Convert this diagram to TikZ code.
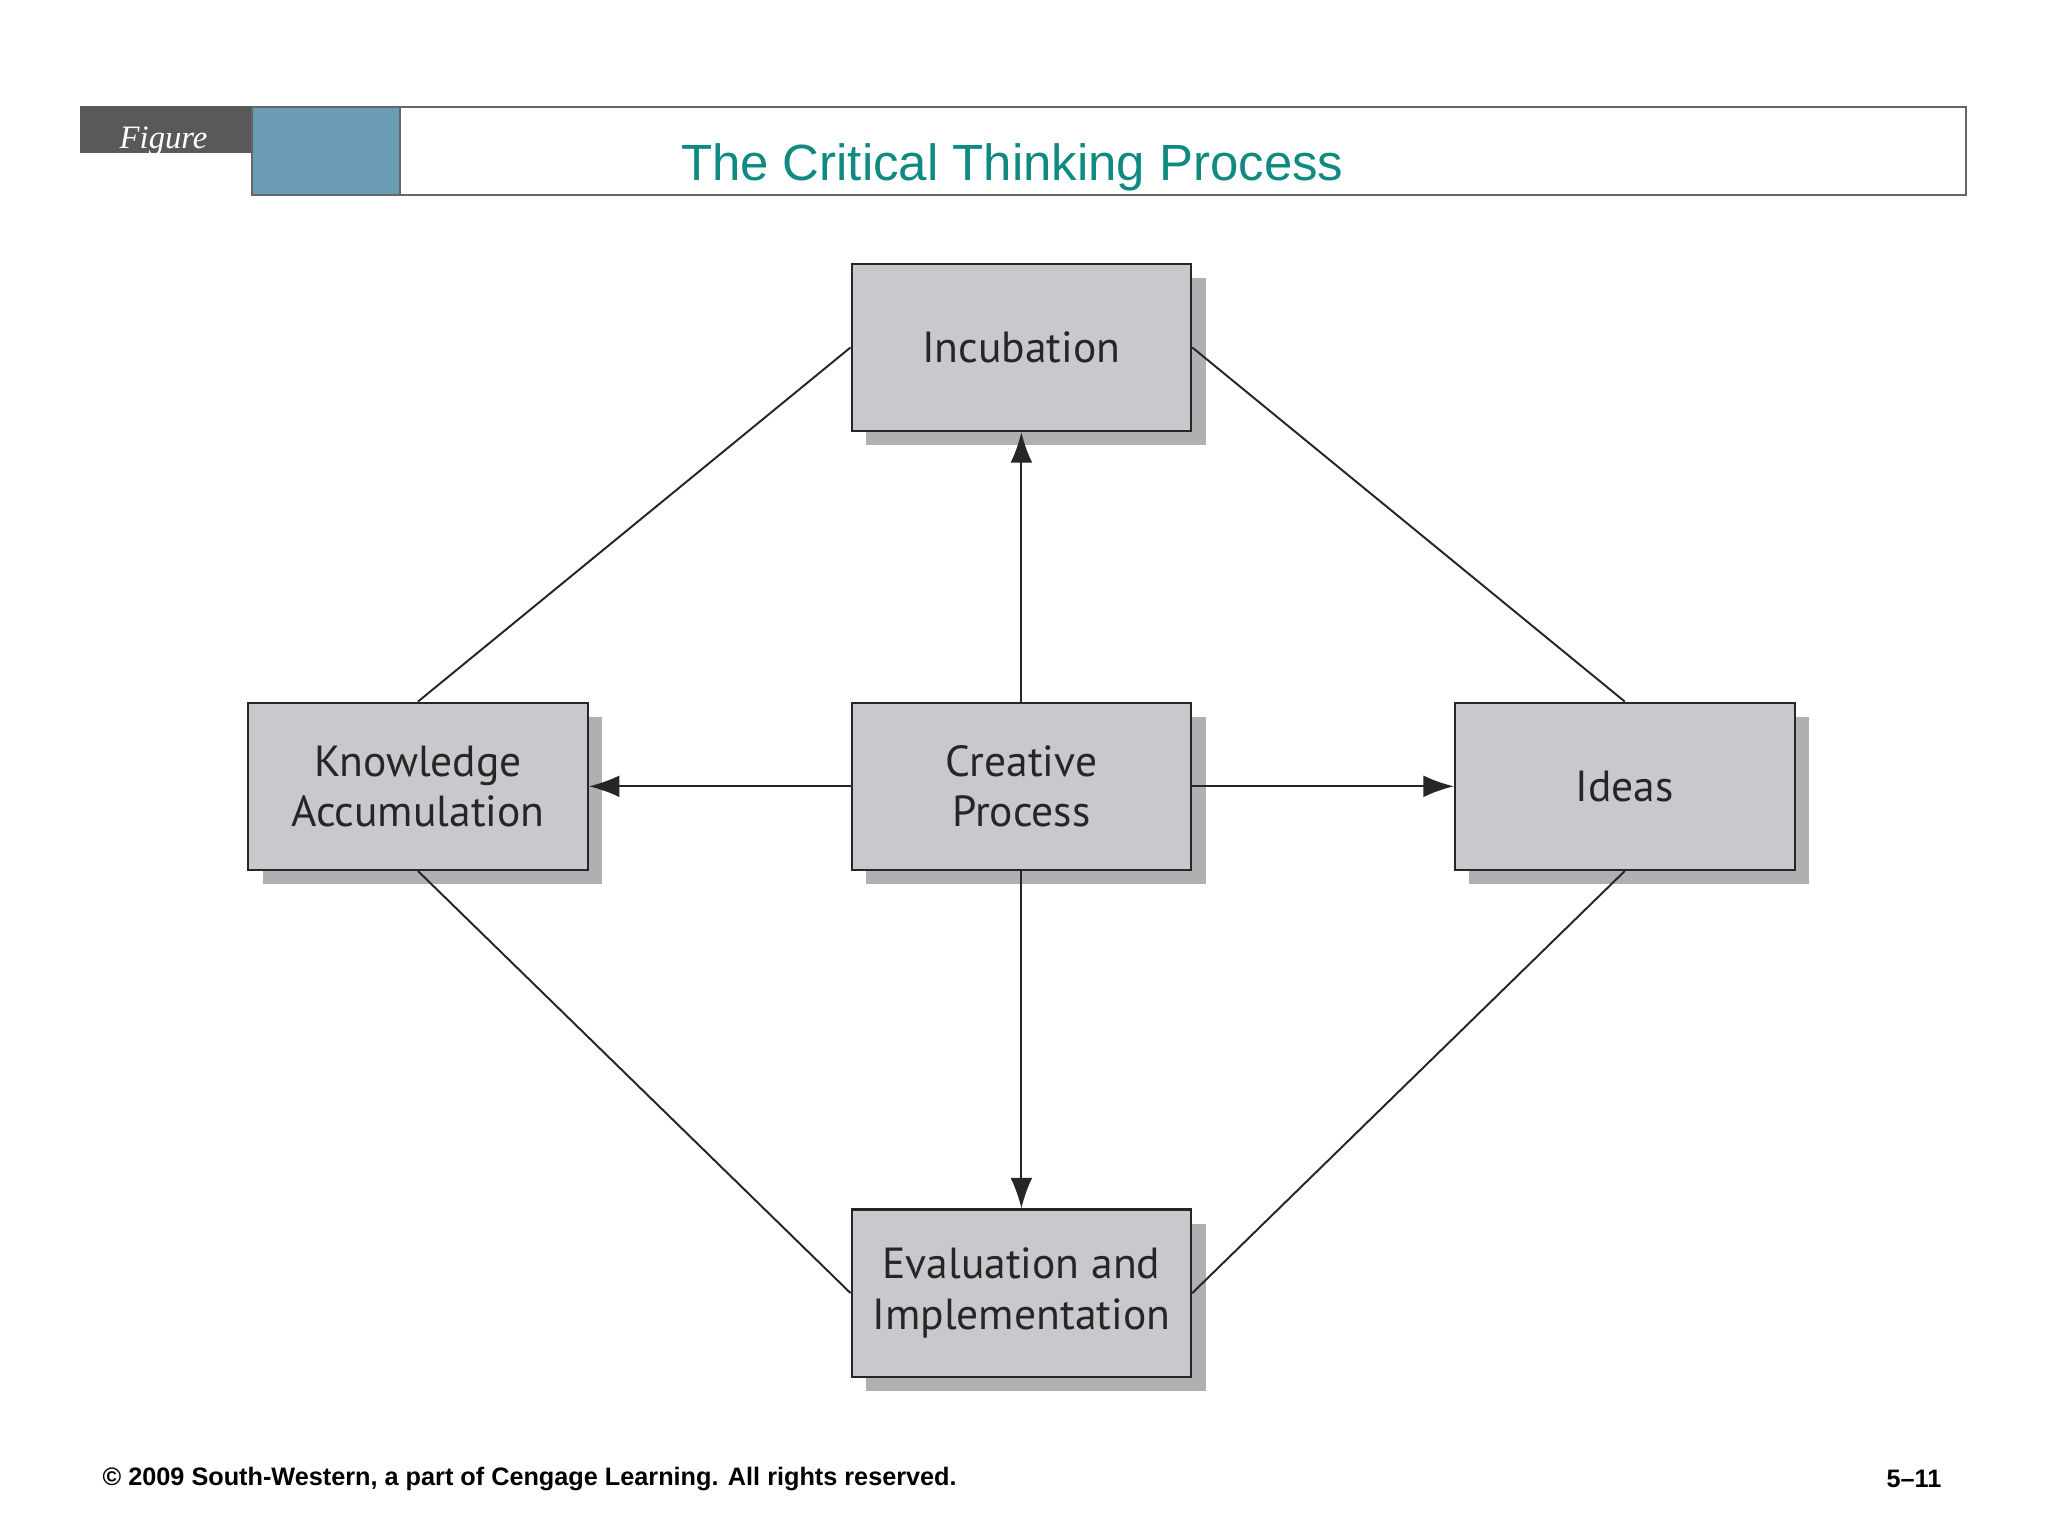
\documentclass[tikz,border=0pt]{standalone}
\usepackage{fontspec}
\setmainfont{Liberation Sans}
\newfontfamily\boxfont{PT Sans}
\newfontfamily\figfont{Liberation Serif}
\usetikzlibrary{arrows.meta}
\definecolor{boxfill}{HTML}{C9C8CC}
\definecolor{shadowc}{HTML}{B0AFB2}
\definecolor{teal}{HTML}{0E8A80}
\definecolor{bluebox}{HTML}{6A9CB6}
\tikzset{
  px/.style={x=0.3pt,y=-0.3pt},
  proc/.style={draw=black!85,line width=0.5pt,fill=boxfill,minimum width=78pt,minimum height=38.4pt,
    align=center,font=\boxfont\fontsize{10}{11.6}\selectfont,text=black!85,inner sep=0pt},
  shad/.style={fill=shadowc,minimum width=78pt,minimum height=38.4pt,inner sep=0pt},
  conn/.style={draw=black!85,line width=0.45pt},
  arr/.style={conn,-{Latex[length=7pt,width=5pt]}}
}
\begin{document}
\begin{tikzpicture}[px]
\useasboundingbox (0,0) rectangle (1568,1176);
\fill[white] (0,0) rectangle (1568,1176);
% header
\fill[black!65] (61,81) rectangle (193,117);
\node[anchor=west,inner sep=0pt,font=\figfont\itshape\fontsize{7.5}{8}\selectfont,text=white] (figl) at (91,108) {Figure};
\draw[black!60,line width=0.4pt] (193,82) rectangle (1505,149);
\fill[bluebox] (193,82) rectangle (306,149);
\draw[black!60,line width=0.4pt] (193,82) rectangle (306,149);
\node[font=\fontsize{11.7}{13}\selectfont,text=teal] (title) at (775,128) {The Critical Thinking Process};
% shadows
\foreach \x/\y in {782/266,320/602,782/602,1244/602,782/990}
  \node[shad] at (\x+11,\y+11) {};
% boxes
\node[proc] (inc) at (782,266) {Incubation};
\node[proc] (know) at (320,602) {Knowledge\\Accumulation};
\node[proc] (cre) at (782,602) {Creative\\Process};
\node[proc] (ideas) at (1244,602) {Ideas};
\node[proc] (eval) at (782,990) {Evaluation and\\Implementation};
% lines
\draw[conn] (know.north) -- (inc.west);
\draw[conn] (inc.east) -- (ideas.north);
\draw[conn] (know.south) -- (eval.west);
\draw[conn] (ideas.south) -- (eval.east);
% arrows
\draw[arr] (cre.north) -- (inc.south);
\draw[arr] (cre.west) -- (know.east);
\draw[arr] (cre.east) -- (ideas.west);
\draw[arr] (cre.south) -- (eval.north);
% footer
\node[anchor=west,inner sep=0pt,font=\bfseries\fontsize{5.8}{7}\selectfont] (copy) at (78,1132) {© 2009 South-Western, a part of Cengage Learning. All rights reserved.};
\node[anchor=east,inner sep=0pt,font=\bfseries\fontsize{5.8}{7}\selectfont] (pg) at (1487,1132) {5–11};
\end{tikzpicture}
\end{document}
